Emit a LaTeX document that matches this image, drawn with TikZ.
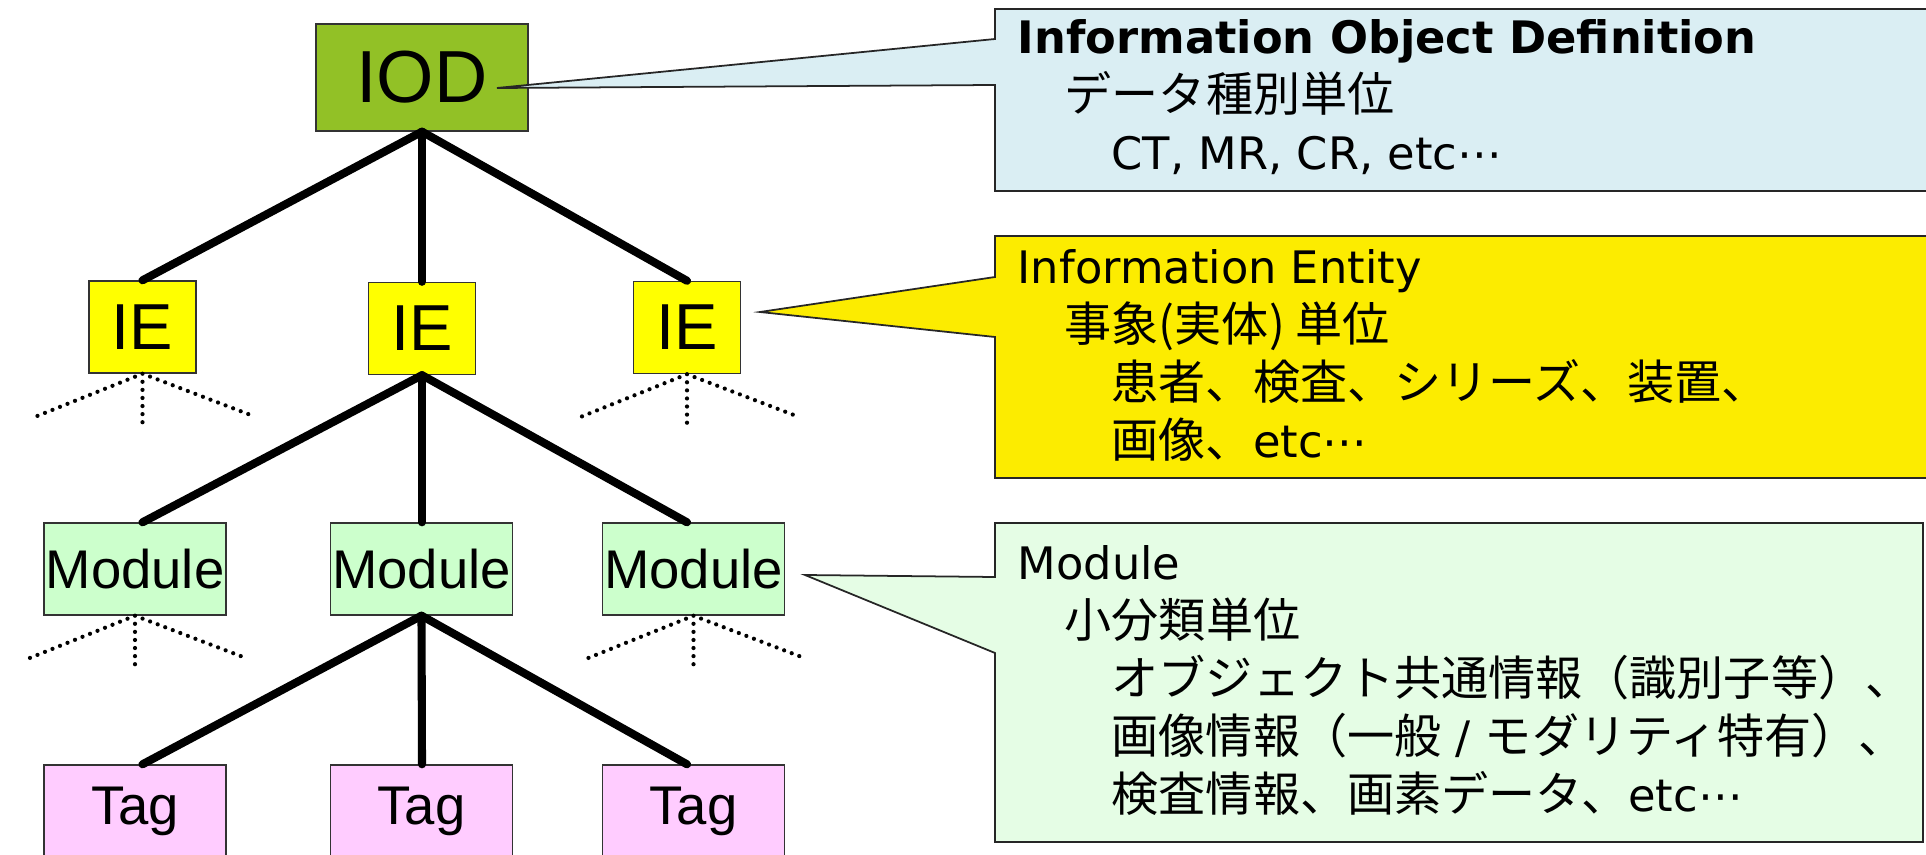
\documentclass[tikz,border=0pt]{standalone}
\usepackage{fontspec}
\setmainfont{Liberation Sans}
\newfontfamily\vd{DejaVu Sans}[Scale=0.95]
\newfontfamily\jp{Noto Sans CJK JP}
\usetikzlibrary{positioning}

\definecolor{iodgreen}{HTML}{92C126}
\definecolor{ieyellow}{HTML}{FFFF00}
\definecolor{modgreen}{HTML}{CCFFCC}
\definecolor{tagpink}{HTML}{FFCCFF}
\definecolor{noteblue}{HTML}{DAEEF3}
\definecolor{noteyellow}{HTML}{FCEC00}
\definecolor{notegreen}{HTML}{E5FDE5}

\newcommand{\ind}{\hspace*{0.47cm}}

\begin{document}
\begin{tikzpicture}[
  box/.style={draw=black!80, line width=0.4pt, inner sep=0pt, font=\fontsize{15.5}{18}\selectfont},
  iodbox/.style={box, fill=iodgreen, minimum width=2.12cm, minimum height=1.07cm, font=\fontsize{21}{24}\selectfont},
  iebox/.style={box, fill=ieyellow, minimum width=1.07cm, minimum height=0.92cm, font=\fontsize{18.5}{22}\selectfont},
  modbox/.style={box, fill=modgreen, minimum width=1.82cm, minimum height=0.92cm},
  tagbox/.style={box, fill=tagpink, minimum width=1.82cm, minimum height=0.92cm},
  link/.style={line width=2.3pt, line cap=round},
  fan/.style={line width=1.2pt, line cap=round, dash pattern=on 0pt off 2.3pt},
  callout/.style={draw=black!85, line width=0.5pt},
  note/.style={anchor=north west, inner sep=0pt, align=left, font=\vd\fontsize{13.4}{16.5}\selectfont}
]
\useasboundingbox (0,0) rectangle (19.26,-8.55);
\clip (0,0) rectangle (19.26,-8.55);

% tree
\node[iodbox] (iod) at (4.22,-0.775) {IOD};

\node[iebox] (ie1) at (1.425,-3.27) {IE};
\node[iebox] (ie2) at (4.22,-3.285) {IE};
\node[iebox] (ie3) at (6.87,-3.275) {IE};

\node[modbox] (mod1) at (1.35,-5.69) {Module};
\node[modbox] (mod2) at (4.215,-5.69) {Module};
\node[modbox] (mod3) at (6.935,-5.69) {Module};

\node[tagbox] (tag1) at (1.35,-8.11) {Tag};
\node[tagbox] (tag2) at (4.215,-8.11) {Tag};
\node[tagbox] (tag3) at (6.935,-8.11) {Tag};

\foreach \n in {ie1,ie2,ie3}
  \draw[link] (iod.south) -- (\n.north);
\foreach \n/\c in {ie1/mod1,ie2/mod2,ie3/mod3}
  \draw[link] (ie2.south) -- (\n |- \c.north);
\foreach \n/\c in {ie1/tag1,ie2/tag2,ie3/tag3}
  \draw[link] (mod2.south) -- (\n |- \c.north);

% omitted branches
\foreach \n in {ie1,ie3,mod1,mod3}
  \draw[fan] (\n.south) -- ++(-1.12,-0.45) (\n.south) -- ++(0,-0.56) (\n.south) -- ++(1.1,-0.42);

% callouts
\draw[callout, fill=noteblue] (19.4,-0.09) -- (9.95,-0.09) -- (9.95,-0.39) -- (4.97,-0.88)
  -- (9.95,-0.85) -- (9.95,-1.91) -- (19.4,-1.91);
\node[note] (txiod) at (10.17,-0.19) {\textbf{Information Object Definition}\\
  \ind{\jp データ種別単位}\\
  \ind\ind CT, MR, CR, etc⋯};

\draw[callout, fill=noteyellow] (19.4,-2.36) -- (9.95,-2.36) -- (9.95,-2.77) -- (7.60,-3.12)
  -- (9.95,-3.37) -- (9.95,-4.78) -- (19.4,-4.78);
\node[note] (txie) at (10.17,-2.49) {Information Entity\\
  \ind{\jp 事象(実体) 単位}\\
  \ind\ind{\jp 患者、検査、シリーズ、装置、}\\
  \ind\ind{\jp 画像、}etc⋯};

\draw[callout, fill=notegreen] (19.23,-5.23) -- (9.95,-5.23) -- (9.95,-5.77) -- (8.05,-5.75)
  -- (9.95,-6.53) -- (9.95,-8.42) -- (19.23,-8.42) -- cycle;
\node[note] (txmod) at (10.17,-5.45) {Module\\
  \ind{\jp 小分類単位}\\
  \ind\ind{\jp オブジェクト共通情報（識別子等）、}\\
  \ind\ind{\jp 画像情報（一般} / {\jp モダリティ特有）、}\\
  \ind\ind{\jp 検査情報、画素データ、}etc⋯};
\end{tikzpicture}
\end{document}
